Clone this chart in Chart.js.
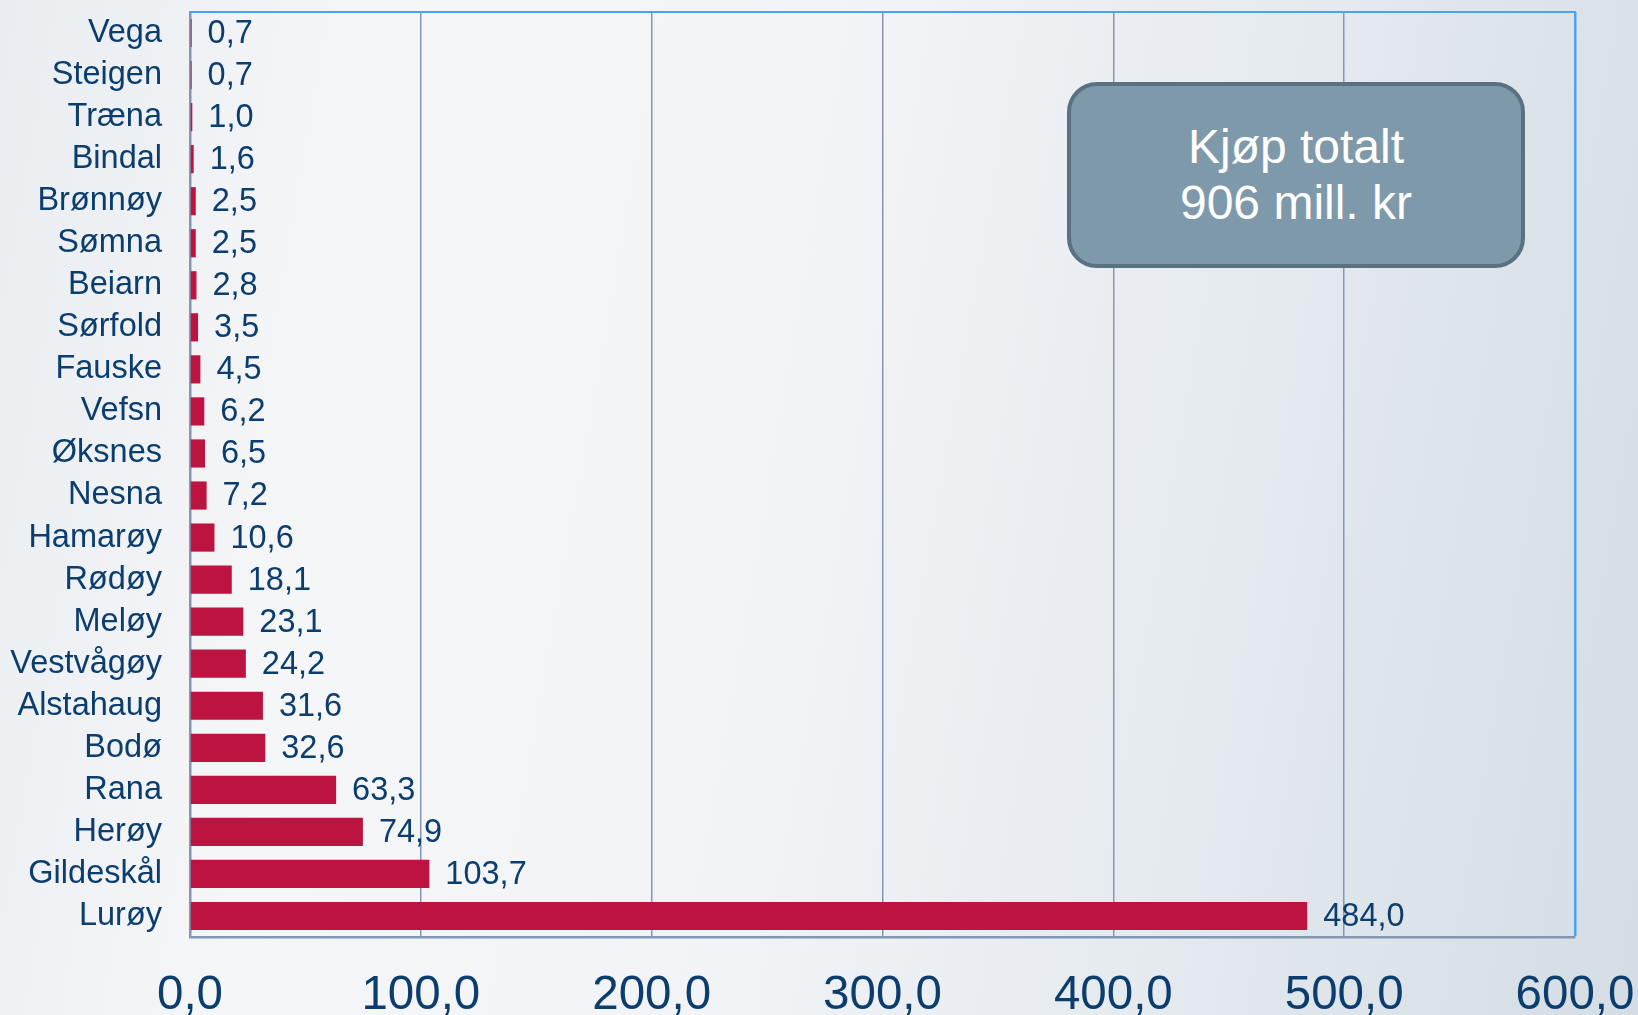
<!DOCTYPE html>
<html>
<head>
<meta charset="utf-8">
<script src="https://cdn.jsdelivr.net/npm/chart.js@4.4.0/dist/chart.umd.min.js"></script>
<style>
  html, body { margin: 0; padding: 0; }
  body {
    width: 1638px; height: 1015px; overflow: hidden; position: relative;
    background: linear-gradient(100deg, #e9edf1 0%, #f5f6f8 22%, #f1f3f6 50%, #e3e9ee 75%, #d3dde3 100%);
    font-family: "Liberation Sans", Arial, sans-serif;
  }
  #chart { position: absolute; left: 0; top: 0; }
  .box {
    position: absolute; left: 1067px; top: 82px; width: 450px; height: 178px;
    background: #7d99aa; border: 4px solid #5a7182; border-radius: 30px;
    color: #fff; font-size: 48px; line-height: 56px; text-align: center;
    display: flex; align-items: center; justify-content: center;
  }
</style>
</head>
<body>
<canvas id="chart" width="1638" height="1015"></canvas>
<div class="box"><div>Kjøp totalt<br>906 mill. kr</div></div>
<script>
const categories = ['Vega', 'Steigen', 'Træna', 'Bindal', 'Brønnøy', 'Sømna', 'Beiarn', 'Sørfold',
  'Fauske', 'Vefsn', 'Øksnes', 'Nesna', 'Hamarøy', 'Rødøy', 'Meløy', 'Vestvågøy',
  'Alstahaug', 'Bodø', 'Rana', 'Herøy', 'Gildeskål', 'Lurøy'];
const values = [0.7, 0.7, 1.0, 1.6, 2.5, 2.5, 2.8, 3.5, 4.5, 6.2, 6.5, 7.2, 10.6, 18.1,
  23.1, 24.2, 31.6, 32.6, 63.3, 74.9, 103.7, 484.0];
const xTicks = [0, 100, 200, 300, 400, 500, 600];

const TEXT = '#0b3d6f';
const AXIS = '#8596b3';
const EDGE = '#4aa3f2';
const FONT = '"Liberation Sans", Arial, sans-serif';

function fmt(v) {
  return v.toFixed(1).replace('.', ',');
}

// value labels next to each bar + top frame line
const barLabels = {
  id: 'barLabels',
  afterDatasetsDraw(chart) {
    const ctx = chart.ctx;
    const meta = chart.getDatasetMeta(0);
    ctx.save();
    ctx.font = `32.5px ${FONT}`;
    ctx.fillStyle = TEXT;
    ctx.textAlign = 'left';
    ctx.textBaseline = 'middle';
    meta.data.forEach((bar, i) => {
      ctx.fillText(fmt(values[i]), bar.x + 16, bar.y + 1);
    });
    ctx.restore();
  },
  afterDraw(chart) {
    const { ctx, chartArea } = chart;
    ctx.save();
    ctx.strokeStyle = EDGE;
    ctx.lineWidth = 2;
    ctx.beginPath();
    ctx.moveTo(chartArea.left, chartArea.top);
    ctx.lineTo(chartArea.right + 1, chartArea.top);
    ctx.stroke();
    ctx.restore();
  }
};

new Chart(document.getElementById('chart'), {
  type: 'bar',
  data: {
    labels: categories,
    datasets: [{
      data: values,
      backgroundColor: '#bd1340',
      barPercentage: 0.67,
      categoryPercentage: 1
    }]
  },
  options: {
    indexAxis: 'y',
    responsive: false,
    devicePixelRatio: 1,
    animation: false,
    layout: { padding: { top: 12, right: 63, left: 0, bottom: 0 } },
    plugins: {
      legend: { display: false },
      tooltip: { enabled: false }
    },
    scales: {
      x: {
        min: 0,
        max: 600,
        afterBuildTicks: scale => { scale.ticks = xTicks.map(v => ({ value: v })); },
        afterFit: scale => {
          scale.height = 78;
          scale.paddingLeft = 0;
          scale.paddingRight = 0;
        },
        ticks: {
          callback: v => fmt(v),
          font: { size: 47.5, family: FONT },
          color: TEXT,
          padding: 30,
          maxRotation: 0
        },
        grid: {
          drawTicks: false,
          color: c => c.tick && c.tick.value === 600 ? EDGE : AXIS,
          lineWidth: c => c.tick && c.tick.value === 600 ? 2.5 : 1.5
        },
        border: { color: AXIS, width: 2.5 }
      },
      y: {
        afterFit: scale => {
          scale.width = 190;
          scale.paddingTop = 0;
          scale.paddingBottom = 0;
        },
        ticks: {
          autoSkip: false,
          font: { size: 32.5, family: FONT },
          color: TEXT,
          padding: 28
        },
        grid: { display: false, drawTicks: false },
        border: { color: AXIS, width: 2.5 }
      }
    }
  },
  plugins: [barLabels]
});
</script>
</body>
</html>
